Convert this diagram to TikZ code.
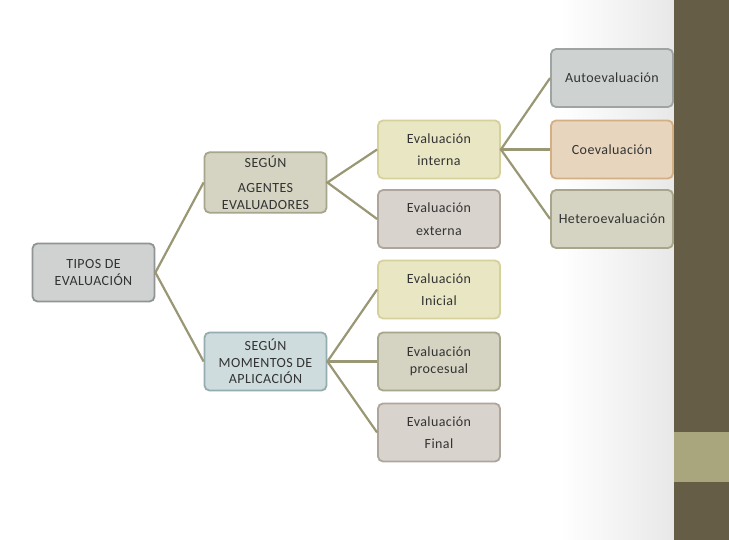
\documentclass[tikz,border=0pt]{standalone}
\usepackage{fontspec}
\newfontfamily\boxfont[LetterSpace=3]{Carlito}
\usepackage{xcolor}
\usetikzlibrary{positioning,calc}

\definecolor{linkcol}{HTML}{9A9774}
\definecolor{txtcol}{HTML}{333333}
\definecolor{barcol}{HTML}{665D47}
\definecolor{barlight}{HTML}{A9A67E}
\definecolor{grayfill}{HTML}{CFD2D0}\definecolor{graydraw}{HTML}{8F9594}
\definecolor{beigefill}{HTML}{D5D3C1}\definecolor{beigedraw}{HTML}{A7A58B}
\definecolor{bluefill}{HTML}{CFDCDD}\definecolor{bluedraw}{HTML}{95ADB1}
\definecolor{yelfill}{HTML}{E9E6C4}\definecolor{yeldraw}{HTML}{D6D19B}
\definecolor{pinkfill}{HTML}{D9D3CD}\definecolor{pinkdraw}{HTML}{AEA69C}
\definecolor{orafill}{HTML}{E8D5BD}\definecolor{oradraw}{HTML}{D4AF83}
\definecolor{slatefill}{HTML}{CED3D1}\definecolor{slatedraw}{HTML}{9DA4A3}

\begin{document}
\begin{tikzpicture}[
  x=1pt, y=-1pt,
  box/.style={rectangle, rounded corners=5pt, line width=1.8pt,
    minimum width=122pt, minimum height=58pt, align=center, text=txtcol,
    font=\boxfont\fontsize{14}{16.5}\selectfont},
  link/.style={draw=linkcol, line width=2.2pt}
]
\useasboundingbox (0,0) rectangle (729,540);
\fill[white] (0,0) rectangle (729,540);
\shade[left color=white, right color=black!9] (560,0) rectangle (674,540);
\fill[barcol] (674,0) rectangle (729,540);
\fill[barlight] (674,432) rectangle (729,482);

\node[box, fill=grayfill, draw=graydraw] (tipos) at (93.5,272.5) {TIPOS DE\\EVALUACIÓN};
\node[box, fill=beigefill, draw=beigedraw] (agentes) at (265.5,182.5) {SEGÚN\\[9pt]AGENTES\\EVALUADORES};
\node[box, fill=bluefill, draw=bluedraw] (momentos) at (265.5,361.5) {SEGÚN\\MOMENTOS DE\\APLICACIÓN};

\node[box, fill=yelfill, draw=yeldraw] (interna) at (439,149.5) {Evaluación\\[6pt]interna};
\node[box, fill=pinkfill, draw=pinkdraw] (externa) at (439,219) {Evaluación\\[6pt]externa};
\node[box, fill=yelfill, draw=yeldraw] (inicial) at (439,289.5) {Evaluación\\[6pt]Inicial};
\node[box, fill=beigefill, draw=beigedraw] (procesual) at (439,361.5) {Evaluación\\procesual};
\node[box, fill=pinkfill, draw=pinkdraw] (final) at (439,432.5) {Evaluación\\[6pt]Final};

\node[box, fill=slatefill, draw=slatedraw] (auto) at (612,78) {Autoevaluación};
\node[box, fill=orafill, draw=oradraw] (coeval) at (612,149.5) {Coevaluación};
\node[box, fill=beigefill, draw=beigedraw] (hetero) at (612,219) {Heteroevaluación};

\draw[link] (agentes.west) -- (tipos.east) -- (momentos.west);
\draw[link] (interna.west) -- (agentes.east) -- (externa.west);
\draw[link] (auto.west) -- (interna.east) -- (hetero.west);
\draw[link] (interna.east) -- (coeval.west);
\draw[link] (inicial.west) -- (momentos.east) -- (final.west);
\draw[link] (momentos.east) -- (procesual.west);
\end{tikzpicture}
\end{document}
